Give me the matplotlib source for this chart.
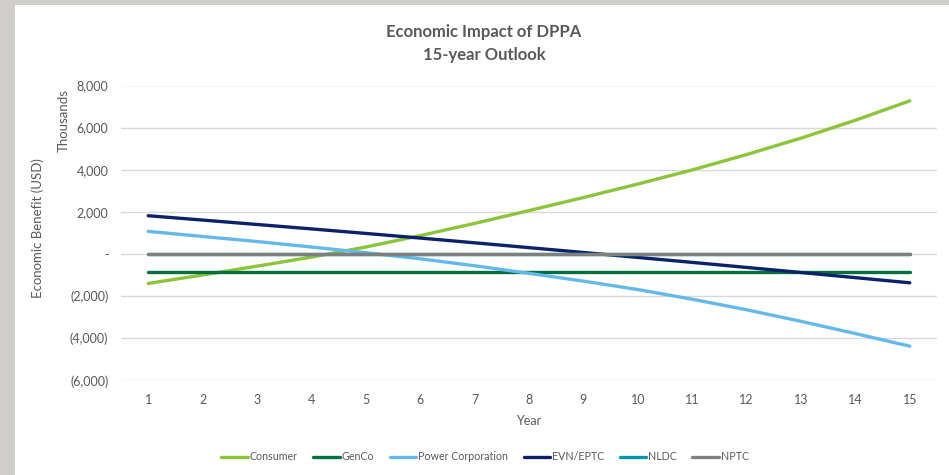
import matplotlib
matplotlib.use("Agg")
import matplotlib.pyplot as plt
from matplotlib.patches import Rectangle
from matplotlib.ticker import FuncFormatter

years = list(range(1, 16))
consumer = [-1400, -1000, -580, -150, 330, 870, 1450, 2060, 2680, 3320, 3990, 4720, 5500, 6350, 7270]
genco = [-850] * 15
power_corp = [1073, 830, 590, 330, 60, -230, -560, -920, -1290, -1690, -2150, -2650, -3200, -3780, -4380]
evn_eptc = [1815, 1610, 1400, 1190, 975, 755, 530, 300, 70, -165, -400, -640, -880, -1125, -1370]
nldc = [0] * 15
nptc = [0] * 15

series_names = ["Consumer", "GenCo", "Power Corporation", "EVN/EPTC", "NLDC", "NPTC"]
series_values = [consumer, genco, power_corp, evn_eptc, nldc, nptc]
colors = ["#8CC43C", "#00703C", "#65B9E9", "#0B2169", "#0097A9", "#7F7F7F"]

yticks = [-6000, -4000, -2000, 0, 2000, 4000, 6000, 8000]

FONT = ["Lato", "DejaVu Sans"]
plt.rcParams["font.family"] = FONT
TXT = "#595959"

fig = plt.figure(figsize=(9.49, 4.75), dpi=100)
fig.patch.set_facecolor("#D0CECA")
fig.add_artist(Rectangle((15 / 949, 0), 1 - 15 / 949, 1 - 5 / 475,
                         transform=fig.transFigure, facecolor="white",
                         edgecolor="none", zorder=-10))

ax = fig.add_axes([121 / 949, 1 - 380.3 / 475, (937 - 121) / 949, (380.3 - 85.5) / 475])
ax.set_facecolor("none")

for name, vals, c in zip(series_names, series_values, colors):
    ax.plot(years, vals, color=c, lw=2.4, label=name, solid_capstyle="round")

ax.set_xlim(0.5, 15.5)
ax.set_ylim(-6000, 8000)
ax.set_yticks(yticks)
ax.set_xticks(years)


def acct(v, pos):
    if abs(v) < 1e-9:
        return "-"
    if v < 0:
        return "({:,.0f})".format(-v)
    return "{:,.0f}".format(v)


ax.yaxis.set_major_formatter(FuncFormatter(acct))
ax.grid(axis="y", color="#D9D9D9", lw=1)
ax.set_axisbelow(True)
for s in ax.spines.values():
    s.set_visible(False)
ax.tick_params(axis="both", length=0, labelsize=9, labelcolor=TXT)
ax.tick_params(axis="x", pad=10)
ax.tick_params(axis="y", pad=9)

ax.set_xlabel("Year", fontsize=9, color=TXT, labelpad=6)

fig.text(38 / 949, 1 - 228 / 475, "Economic Benefit (USD)", rotation=90,
         ha="center", va="center", fontsize=9.5, color=TXT)
fig.text(64 / 949, 1 - 120 / 475, "Thousands", rotation=90,
         ha="center", va="center", fontsize=9.5, color=TXT)

fig.text(484 / 949, 1 - 32 / 475, "Economic Impact of DPPA", ha="center", va="center",
         fontsize=12, color=TXT, fontweight="bold")
fig.text(484 / 949, 1 - 55 / 475, "15-year Outlook", ha="center", va="center",
         fontsize=12, color=TXT, fontweight="bold")

handles, labels = ax.get_legend_handles_labels()
fig.legend(handles, labels, loc="center", bbox_to_anchor=(485 / 949, 1 - 457 / 475),
           ncol=6, frameon=False, fontsize=7.7, handlelength=2.5, handletextpad=0.15,
           columnspacing=1.45, labelcolor=TXT)

fig.savefig("out.png", dpi=100, facecolor=fig.get_facecolor())
